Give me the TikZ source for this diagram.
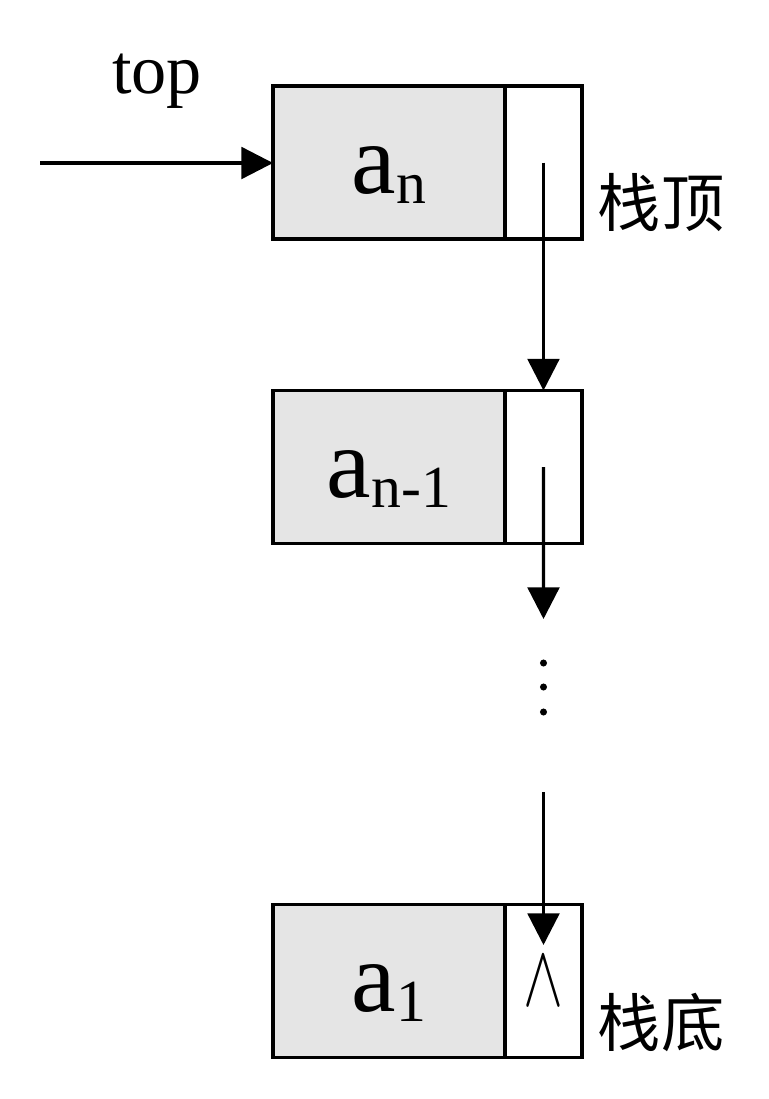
\documentclass[tikz,border=0pt]{standalone}
\usepackage{fontspec}
\setmainfont{Liberation Serif}
\newfontfamily\cjk{Noto Sans CJK SC}
\usepackage{tikz}
\usetikzlibrary{positioning, arrows.meta}

% element text: big letter with a lowered index
\newcommand{\elem}[2]{{\fontsize{57pt}{60pt}\selectfont #1}{\fontsize{34pt}{36pt}\selectfont\raisebox{-5.7pt}{#2}}}

\begin{document}
\begin{tikzpicture}[x=0.02cm, y=-0.02cm,
    datacell/.style={draw, line width=1.9pt, fill=gray!20, minimum width=4.64cm, minimum height=3.06cm,
        inner sep=0pt, outer sep=0pt, text height=40pt, text depth=5pt},
    ptrcell/.style={draw, line width=1.9pt, fill=white, minimum width=1.54cm, minimum height=3.06cm,
        inner sep=0pt, outer sep=0pt},
    link/.style={line width=1.9pt, -{Triangle[length=18pt, width=18pt]}},
    cjklabel/.style={font=\cjk\fontsize{36pt}{40pt}\selectfont}]
    \useasboundingbox (0,0) rectangle (768,1099);

    % stack nodes
    \node[datacell] (dn) at (389,162.5) {\elem{a}{n}};
    \node[ptrcell, right=0pt of dn] (pn) {};
    \node[datacell] (dn1) at (389,467) {\elem{a}{n-1}};
    \node[ptrcell, right=0pt of dn1] (pn1) {};
    \node[datacell] (d1) at (389,981) {\elem{a}{1}};
    \node[ptrcell, right=0pt of d1] (p1) {\scalebox{1.37}[2]{\fontsize{30pt}{32pt}\selectfont$\wedge$}};

    % top pointer
    \node[font=\fontsize{40pt}{44pt}\selectfont, anchor=base] (toplbl) at (157,93) {top};
    \coordinate (topin) at (40,163);
    \draw[link] (topin) -- (topin -| dn.west);

    % links
    \coordinate (gapA) at (543.5,619);
    \coordinate (gapB) at (543.5,792);
    \coordinate (nilhit) at (543.5,945);
    \draw[link] (pn.center) -- (pn1.north);
    \draw[link] (pn1.center) -- (gapA);
    \foreach \y in {663,687,712} {
        \fill (543.5,\y) circle (2pt);
    }
    \draw[link] (gapB) -- (nilhit);

    \node[cjklabel] (toplabel) at (661,203) {栈顶};
    \node[cjklabel] (bottomlabel) at (661,1022) {栈底};
\end{tikzpicture}
\end{document}
